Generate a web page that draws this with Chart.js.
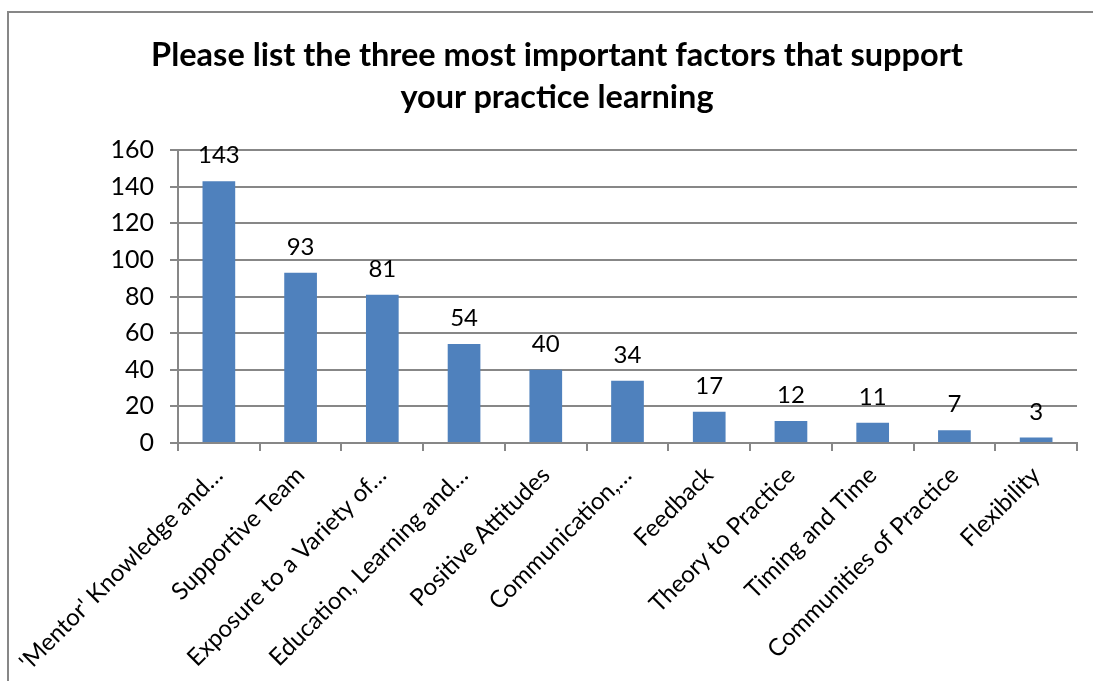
<!DOCTYPE html>
<html>
<head>
<meta charset="utf-8">
<script src="https://cdn.jsdelivr.net/npm/chart.js@4"></script>
<style>
  html, body { margin: 0; padding: 0; background: #fff; overflow: hidden; width: 1093px; height: 681px; }
  #frame { position: absolute; left: 7px; top: 11px; width: 1086px; height: 670px; box-sizing: border-box;
           border-left: 2px solid #878787; border-top: 2px solid #878787; }
  #wrap { position: absolute; left: 0; top: 0; width: 1093px; height: 681px; }
  #title { position: absolute; left: 7px; width: 1100px; top: 33px; text-align: center;
           font-family: Lato, sans-serif; font-weight: bold; font-size: 32.5px; line-height: 42px; color: #000; }
</style>
</head>
<body>
<div id="frame"></div>
<div id="wrap"><canvas id="c"></canvas></div>
<div id="title">Please list the three most important factors that support<br>your practice learning</div>
<script>
const categories = [
  "'Mentor' Knowledge and\u2026",
  "Supportive Team",
  "Exposure to a Variety of\u2026",
  "Education, Learning and\u2026",
  "Positive Attitudes",
  "Communication,\u2026",
  "Feedback",
  "Theory to Practice",
  "Timing and Time",
  "Communities of Practice",
  "Flexibility"
];
const counts = [143, 93, 81, 54, 40, 34, 17, 12, 11, 7, 3];
const yTicks = [0, 20, 40, 60, 80, 100, 120, 140, 160];

const FONT = 'Lato, sans-serif';
const gridColor = '#878787';

const valueLabels = {
  id: 'valueLabels',
  afterDatasetsDraw(chart) {
    const ctx = chart.ctx;
    ctx.save();
    ctx.font = '24px ' + FONT;
    ctx.fillStyle = '#000';
    ctx.textAlign = 'center';
    ctx.textBaseline = 'alphabetic';
    chart.getDatasetMeta(0).data.forEach((bar, i) => {
      ctx.fillText(String(counts[i]), bar.x, bar.y - 18);
    });
    ctx.restore();
  }
};

new Chart(document.getElementById('c'), {
  type: 'bar',
  data: {
    labels: categories,
    datasets: [{
      data: counts,
      backgroundColor: '#4F81BD',
      borderWidth: 0,
      categoryPercentage: 1,
      barPercentage: 0.4
    }]
  },
  options: {
    responsive: true,
    maintainAspectRatio: false,
    animation: false,
    layout: { padding: { left: 0, right: 16, top: 150, bottom: 0 } },
    plugins: { legend: { display: false }, title: { display: false }, tooltip: { enabled: false } },
    scales: {
      x: {
        afterFit(scale) { scale.height = 238; },
        grid: { display: true, drawOnChartArea: false, drawTicks: true, tickLength: 8, color: gridColor, lineWidth: 2, offset: true },
        border: { display: true, color: gridColor, width: 2 },
        ticks: {
          autoSkip: false, minRotation: 45, maxRotation: 45,
          color: '#000', font: { family: FONT, size: 24 }, padding: 10
        }
      },
      y: {
        min: 0, max: 160,
        afterFit(scale) { scale.width = 178; },
        afterBuildTicks(scale) { scale.ticks = yTicks.map(v => ({ value: v })); },
        grid: { color: gridColor, lineWidth: 2, tickLength: 8, drawTicks: true },
        border: { display: true, color: gridColor, width: 2 },
        ticks: { color: '#000', font: { family: FONT, size: 25 }, padding: 16 }
      }
    }
  },
  plugins: [valueLabels]
});
</script>
</body>
</html>
